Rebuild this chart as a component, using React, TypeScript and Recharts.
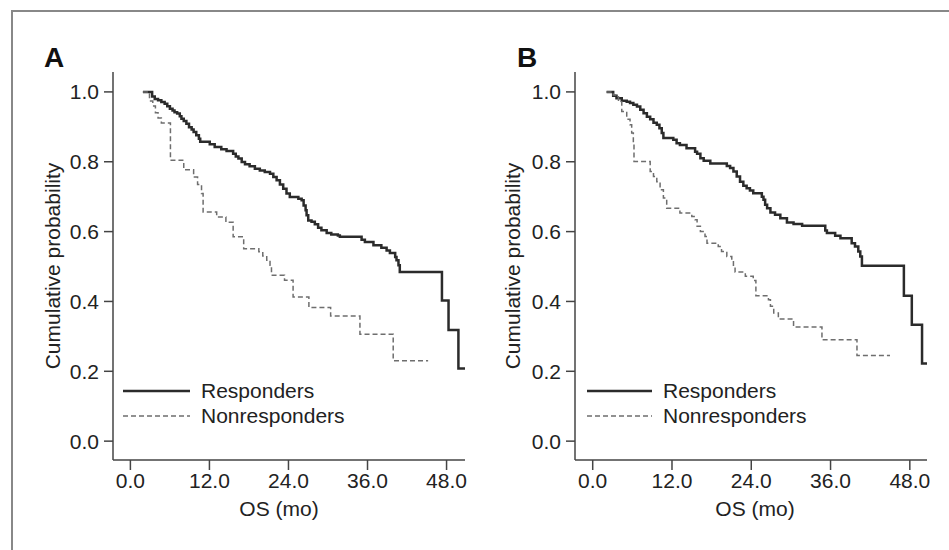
import { Label, Legend, Line, LineChart, XAxis, YAxis } from "recharts";

// Kaplan-Meier steps: [month, cumulative probability]
const responderA: [number, number][] = [
  [1.9, 1.0], [3.3, 0.987], [3.7, 0.98], [4.2, 0.976], [4.7, 0.971], [5.2, 0.966],
  [5.6, 0.959], [6.0, 0.952], [6.4, 0.947], [6.7, 0.942], [7.1, 0.938], [7.5, 0.93],
  [7.75, 0.923], [8.1, 0.917], [8.5, 0.909], [8.9, 0.899], [9.3, 0.892], [9.6, 0.885],
  [10.0, 0.876], [10.4, 0.866], [10.6, 0.857], [12.05, 0.85], [12.8, 0.842],
  [13.8, 0.836], [14.6, 0.831], [15.6, 0.823], [16.0, 0.815], [16.4, 0.809],
  [16.9, 0.799], [17.4, 0.793], [18.1, 0.787], [18.9, 0.78], [19.65, 0.775],
  [20.4, 0.771], [21.2, 0.766], [21.7, 0.756], [22.2, 0.747], [22.7, 0.735],
  [23.2, 0.723], [23.7, 0.709], [24.2, 0.699], [25.5, 0.694], [26.0, 0.69],
  [26.3, 0.675], [26.6, 0.661], [26.75, 0.647], [27.0, 0.632], [27.5, 0.628],
  [28.0, 0.621], [28.5, 0.611], [29.0, 0.604], [29.8, 0.596], [30.5, 0.592],
  [31.5, 0.589], [31.8, 0.585], [35.1, 0.577], [35.6, 0.57], [36.9, 0.561],
  [38.1, 0.554], [38.9, 0.546], [39.4, 0.539], [40.2, 0.527], [40.4, 0.518],
  [40.7, 0.504], [40.9, 0.484], [47.3, 0.403], [48.3, 0.318], [49.8, 0.208],
  [51.1, 0.208],
];

const nonResponderA: [number, number][] = [
  [1.9, 1.0], [2.9, 0.974], [3.4, 0.96], [3.8, 0.94], [4.2, 0.925], [4.7, 0.911],
  [6.08, 0.804], [8.1, 0.777], [9.6, 0.756], [10.2, 0.735], [10.8, 0.709],
  [11.04, 0.656], [13.1, 0.642], [14.5, 0.627], [15.6, 0.585], [17.2, 0.551],
  [19.5, 0.542], [20.1, 0.53], [20.7, 0.518], [21.2, 0.504], [21.42, 0.475],
  [23.4, 0.461], [24.7, 0.413], [27.1, 0.383], [30.4, 0.358], [34.85, 0.306],
  [39.9, 0.23], [45.2, 0.23],
];

const responderB: [number, number][] = [
  [2.1, 1.0], [3.1, 0.989], [3.6, 0.982], [4.4, 0.975], [5.15, 0.972], [5.65, 0.968],
  [6.15, 0.963], [6.7, 0.958], [7.2, 0.949], [7.7, 0.939], [8.2, 0.929], [8.7, 0.922],
  [9.2, 0.912], [9.7, 0.906], [10.1, 0.896], [10.45, 0.882], [10.7, 0.868],
  [12.2, 0.863], [12.7, 0.853], [13.2, 0.848], [14.2, 0.839], [15.5, 0.829],
  [15.8, 0.823], [16.3, 0.81], [16.8, 0.803], [17.8, 0.795], [20.3, 0.788],
  [20.8, 0.782], [21.3, 0.772], [21.8, 0.758], [22.3, 0.743], [22.8, 0.731],
  [23.3, 0.724], [23.8, 0.718], [24.3, 0.71], [25.6, 0.7], [25.85, 0.691],
  [26.1, 0.677], [26.4, 0.667], [26.9, 0.655], [27.6, 0.648], [28.4, 0.638],
  [29.4, 0.626], [30.4, 0.622], [31.7, 0.617], [35.2, 0.603], [35.45, 0.596],
  [36.7, 0.588], [37.5, 0.581], [39.2, 0.567], [39.7, 0.557], [40.2, 0.543],
  [40.5, 0.529], [40.75, 0.502], [47.1, 0.416], [48.3, 0.333], [49.85, 0.222],
  [50.9, 0.222],
];

const nonResponderB: [number, number][] = [
  [2.1, 1.0], [3.1, 0.991], [3.9, 0.972], [4.4, 0.944], [5.15, 0.922], [5.65, 0.906],
  [5.9, 0.882], [6.15, 0.853], [6.25, 0.801], [8.7, 0.772], [9.2, 0.758], [9.7, 0.743],
  [10.2, 0.72], [10.7, 0.696], [11.2, 0.667], [13.2, 0.653], [15.0, 0.643],
  [15.5, 0.634], [15.8, 0.615], [16.3, 0.6], [17.0, 0.586], [17.3, 0.567],
  [19.0, 0.557], [19.5, 0.543], [20.3, 0.529], [21.05, 0.519], [21.3, 0.5],
  [21.55, 0.484], [23.1, 0.472], [24.3, 0.46], [24.7, 0.416], [26.6, 0.405],
  [26.9, 0.386], [27.4, 0.367], [28.1, 0.35], [30.4, 0.327], [34.7, 0.29],
  [40.0, 0.245], [45.0, 0.245],
];

const xTicks = [0, 12, 24, 36, 48];
const yTicks = [0, 0.2, 0.4, 0.6, 0.8, 1.0];
const legendOrder = ["Responders", "Nonresponders"];

const FONT = '"Liberation Sans", Arial, Helvetica, sans-serif';
const FS = 21;
const AXIS = "#444";
const TEXT = "#222";

const seriesStyle: Record<string, { stroke: string; width: number; dash?: string }> = {
  Responders: { stroke: "#2b2b2b", width: 2.5 },
  Nonresponders: { stroke: "#6e6e6e", width: 1.5, dash: "5 3" },
};

const toPoints = (rows: [number, number][]) => rows.map(([t, s]) => ({ t, s }));

function KmLegend({ payload, lineWidth }: { payload?: any[]; lineWidth: number }) {
  const items = [...(payload ?? [])].sort(
    (a, b) => legendOrder.indexOf(a.value) - legendOrder.indexOf(b.value)
  );
  return (
    <div style={{ fontFamily: FONT, fontSize: FS, color: TEXT }}>
      {items.map((p) => {
        const st = seriesStyle[p.value] ?? seriesStyle.Responders;
        return (
          <div key={p.value} style={{ display: "flex", alignItems: "center", height: 25 }}>
            <svg width={lineWidth} height={6} style={{ display: "block" }}>
              <line
                x1={0}
                x2={lineWidth}
                y1={3}
                y2={3}
                stroke={st.stroke}
                strokeWidth={st.width}
                strokeDasharray={st.dash}
              />
            </svg>
            <span style={{ marginLeft: 11, lineHeight: "25px" }}>{p.value}</span>
          </div>
        );
      })}
    </div>
  );
}

type PanelProps = {
  left: number;
  width: number;
  yAxisWidth: number;
  rightMargin: number;
  xDomain: [number, number];
  responders: [number, number][];
  nonResponders: [number, number][];
  legendLeft: number;
  legendLine: number;
  xLabelShift: number;
};

function KmPanel(p: PanelProps) {
  return (
    <div style={{ position: "absolute", left: p.left, top: 0 }}>
      <LineChart
        width={p.width}
        height={550}
        margin={{ top: 72, right: p.rightMargin, bottom: 30, left: 0 }}
        style={{ fontFamily: FONT }}
      >
        <XAxis
          type="number"
          dataKey="t"
          domain={p.xDomain}
          ticks={xTicks}
          allowDataOverflow
          tickFormatter={(v: number) => v.toFixed(1)}
          height={60}
          tickSize={10}
          tickMargin={3}
          stroke={AXIS}
          strokeWidth={1.5}
          tick={{ fill: TEXT, fontSize: FS, fontFamily: FONT }}
        >
          <Label
            value="OS (mo)"
            position="insideBottom"
            offset={4}
            dx={p.xLabelShift}
            style={{ fill: TEXT, fontSize: FS, fontFamily: FONT }}
          />
        </XAxis>
        <YAxis
          type="number"
          domain={[-0.054, 1.057]}
          ticks={yTicks}
          allowDataOverflow
          tickFormatter={(v: number) => v.toFixed(1)}
          width={p.yAxisWidth}
          tickSize={9}
          tickMargin={5}
          stroke={AXIS}
          strokeWidth={1.5}
          tick={{ fill: TEXT, fontSize: FS, fontFamily: FONT }}
        >
          <Label
            value="Cumulative probability"
            position="center"
            angle={-90}
            dx={4}
            style={{ fill: TEXT, fontSize: FS, fontFamily: FONT }}
          />
        </YAxis>
        <Legend
          layout="vertical"
          align="center"
          verticalAlign="middle"
          wrapperStyle={{ left: p.legendLeft, top: 378, width: "auto" }}
          content={(props: any) => <KmLegend payload={props.payload} lineWidth={p.legendLine} />}
        />
        <Line
          data={toPoints(p.responders)}
          dataKey="s"
          name="Responders"
          type="stepAfter"
          stroke={seriesStyle.Responders.stroke}
          strokeWidth={seriesStyle.Responders.width}
          dot={false}
          activeDot={false}
          isAnimationActive={false}
        />
        <Line
          data={toPoints(p.nonResponders)}
          dataKey="s"
          name="Nonresponders"
          type="stepAfter"
          stroke={seriesStyle.Nonresponders.stroke}
          strokeWidth={seriesStyle.Nonresponders.width}
          strokeDasharray={seriesStyle.Nonresponders.dash}
          dot={false}
          activeDot={false}
          isAnimationActive={false}
        />
      </LineChart>
    </div>
  );
}

export default function App() {
  return (
    <div
      style={{
        position: "absolute",
        left: 0,
        top: 0,
        width: 949,
        height: 550,
        background: "#fff",
        overflow: "hidden",
        fontFamily: FONT,
      }}
    >
      <div
        style={{
          position: "absolute",
          left: 11,
          top: 10,
          width: 960,
          height: 560,
          borderLeft: "2px solid #888",
          borderTop: "2px solid #888",
        }}
      />
      <KmPanel
        left={-15}
        width={490}
        yAxisWidth={128}
        rightMargin={10}
        xDomain={[-2.64, 50.8]}
        responders={responderA}
        nonResponders={nonResponderA}
        legendLeft={138}
        legendLine={67}
        xLabelShift={-10}
      />
      <KmPanel
        left={443}
        width={506}
        yAxisWidth={132}
        rightMargin={22}
        xDomain={[-2.68, 50.6]}
        responders={responderB}
        nonResponders={nonResponderB}
        legendLeft={144}
        legendLine={65}
        xLabelShift={4}
      />
      <div
        style={{
          position: "absolute",
          left: 44,
          top: 44,
          fontSize: 28,
          lineHeight: "28px",
          fontWeight: 700,
          color: "#111",
        }}
      >
        A
      </div>
      <div
        style={{
          position: "absolute",
          left: 517,
          top: 44,
          fontSize: 28,
          lineHeight: "28px",
          fontWeight: 700,
          color: "#111",
        }}
      >
        B
      </div>
    </div>
  );
}
